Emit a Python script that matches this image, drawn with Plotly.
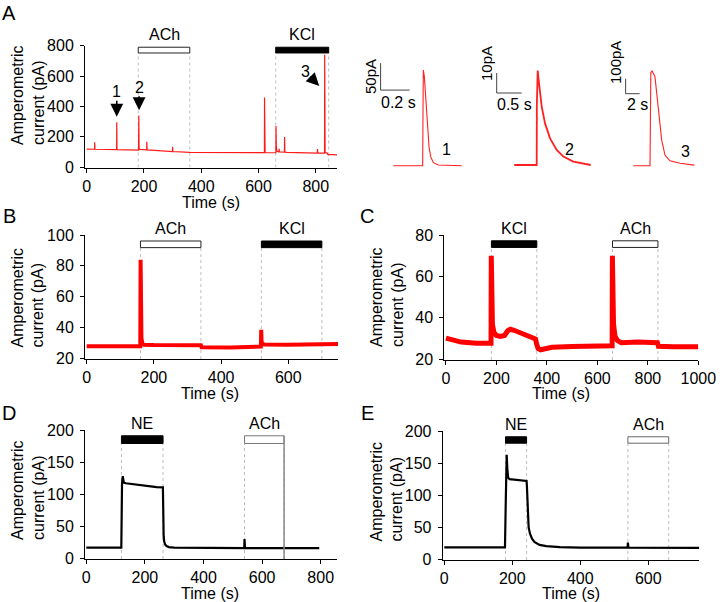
import plotly.graph_objects as go

# ---------------- data ----------------
# Panel A : full recording (s, pA)
A_time = [0, 27.5, 28, 28.8, 104.5, 105, 105.8, 181, 182, 183, 186, 209.5, 210, 211, 250,
          299.5, 300, 300.8, 360, 450, 600, 620.5, 621, 622, 623, 660.5, 661, 662, 664,
          671.5, 672, 672.8, 690.5, 691, 692, 700, 750, 805.5, 806, 806.8, 830.5, 831,
          832.5, 840, 842, 860, 880]
A_current = [118, 117, 163, 117, 114, 295, 114, 112, 339, 120, 116, 113, 167, 113, 108,
             102, 134, 102, 97, 95, 95, 95, 458, 100, 95, 94, 271, 140, 105,
             100, 120, 100, 98, 198, 98, 96, 94, 92, 119, 92, 91, 740,
             95, 92, 82, 81, 80]
A_xticks = [0, 200, 400, 600, 800]
A_yticks = [0, 200, 400, 600, 800]
A_stim_label = ["ACh", "KCl"]
A_stim_on = [180, 660]
A_stim_off = [360, 845]
A_stim_kind = ["open", "solid"]
A_arrow_label = ["1", "2", "3"]
A_arrow_t = [105, 183, 812]
A_arrow_y = [332, 375, 535]

# Panel A insets : single events (s from onset, pA above baseline)
ev1_t = [-0.202, 0, 0.0023, 0.0046, 0.0115, 0.0207, 0.032, 0.0437, 0.055, 0.0736, 0.108, 0.269]
ev1_y = [0, 0, 109, 177, 165, 128, 78, 35, 16.7, 5.6, 1.2, 0]
ev2_t = [-0.45, 0, 0.003, 0.02, 0.047, 0.1, 0.167, 0.267, 0.4, 0.533, 0.733, 1.08]
ev2_y = [0, 0, 30, 47.2, 40.8, 29.2, 20.8, 13.3, 7.5, 4.2, 1.7, 0]
ev3_t = [-2.38, 0, 0.12, 0.3, 0.71, 1.19, 1.67, 2.14, 2.86, 4.29, 6.33]
ev3_y = [0, 0, 622, 631, 593, 393, 171, 71, 33, 16, 4]
ev_label = ["1", "2", "3"]
ev_bar_t = [0.2, 0.5, 2]        # s
ev_bar_pA = [50, 10, 100]       # pA
ev_bar_t_txt = ["0.2 s", "0.5 s", "2 s"]
ev_bar_pA_txt = ["50pA", "10pA", "100pA"]

# Panel B
B_time = [0, 80, 159.5, 160.5, 161.5, 163, 166, 170, 200, 340, 342, 430, 518.5, 519.5,
          520.5, 523, 528, 600, 700, 705, 750]
B_current = [27.9, 27.7, 27.8, 84, 50, 33, 29.5, 28.8, 28.6, 28.5, 27.2, 27.0, 27.6, 38.5,
             31, 29.5, 29.0, 28.8, 28.7, 29.2, 29.3]
B_xticks = [0, 200, 400, 600]
B_yticks = [20, 40, 60, 80, 100]
B_stim_label = ["ACh", "KCl"]
B_stim_on = [160, 520]
B_stim_off = [340, 700]
B_stim_kind = ["open", "solid"]

# Panel C
C_time = [0, 20, 60, 120, 178.5, 179.5, 181, 184, 190, 200, 215, 232, 245, 255, 270,
          300, 330, 355, 359, 365, 375, 390, 420, 500, 600, 658.5, 659.5, 661, 664, 670,
          680, 695, 760, 838, 842, 900, 1000]
C_current = [30.2, 29.4, 28.3, 27.8, 27.8, 70, 48, 37, 33, 31.5, 31, 31.5, 33.8, 34.5, 34,
             32.5, 31, 29.8, 27.5, 25.2, 24.6, 25, 25.8, 26.2, 26.4, 26.5, 70, 48, 37, 31,
             29, 28, 28.3, 28, 26.3, 26, 26]
C_xticks = [0, 200, 400, 600, 800, 1000]
C_yticks = [20, 40, 60, 80]
C_stim_label = ["KCl", "ACh"]
C_stim_on = [180, 660]
C_stim_off = [360, 840]
C_stim_kind = ["solid", "open"]

# Panel D
D_time = [0, 40, 41, 42, 119.5, 120.5, 122, 124.5, 126, 128, 135, 160, 200, 240, 261.5,
          262.5, 264, 266, 269, 274, 282, 300, 400, 539, 540, 541.5, 600, 795]
D_current = [16.5, 16.5, 18, 16.5, 16.5, 70, 117, 128, 120, 118, 117, 115.5, 113, 111, 110.5,
             55, 34, 26, 21.5, 19, 17.5, 16.5, 15.8, 15.8, 30, 16, 16, 15.8]
D_xticks = [0, 200, 400, 600, 800]
D_yticks = [0, 50, 100, 150, 200]
D_stim_label = ["NE", "ACh"]
D_stim_on = [120, 540]
D_stim_off = [262, 675]
D_stim_kind = ["solid", "open"]

# Panel E
E_time = [0, 178.5, 180.5, 182, 183.5, 185.5, 188, 192, 215, 242, 243, 245, 248, 252, 258,
          265, 280, 300, 340, 400, 539, 540, 541.5, 750]
E_current = [18.5, 18.5, 82, 140, 163, 140, 127, 125, 123.5, 122, 114, 70, 50, 40, 32,
             27, 22.5, 20.5, 19, 18.3, 18.2, 26, 18.3, 17.8]
E_xticks = [0, 200, 400, 600]
E_yticks = [0, 50, 100, 150, 200]
E_stim_label = ["NE", "ACh"]
E_stim_on = [180, 540]
E_stim_off = [242, 660]
E_stim_kind = ["solid", "open"]

# ---------------- layout helpers ----------------
W, H = 725, 602
FONT = "Liberation Sans, Arial, Helvetica, sans-serif"
FS = 16


def dx(p0, p1):
    return [p0 / W, p1 / W]


def dy(top, bot):
    return [1 - bot / H, 1 - top / H]


fig = go.Figure()
annotations = []
shapes = []


def ann(text, px, py, size=FS, angle=0, align="center"):
    annotations.append(dict(text=text, x=px / W, y=1 - py / H, xref="paper", yref="paper",
                            showarrow=False, xanchor="center", yanchor="middle",
                            textangle=angle, align=align, borderpad=0,
                            font=dict(family=FONT, size=size, color="black")))


panels = [
    dict(t=A_time, y=A_current, color="#ff1a1a", w=1.2, xd=(85, 337), yd=(45.7, 167.5),
         xr=[-5.9, 874], yr=[-3.3, 800], xt=A_xticks, yt=A_yticks,
         st=(A_stim_label, A_stim_on, A_stim_off, A_stim_kind), box=(752, 790), boxc="#222",
         letter=("A", 9, 13), ytitle=(27.5, 95.5), xtitle=(211, 202.5)),
    dict(t=B_time, y=B_current, color="#ff0000", w=4, xd=(85, 338), yd=(235, 359),
         xr=[-5, 748], yr=[19.55, 100], xt=B_xticks, yt=B_yticks,
         st=(B_stim_label, B_stim_on, B_stim_off, B_stim_kind), box=(91.8, 96.1), boxc="#222",
         letter=("B", 9, 216.5), ytitle=(27.5, 298), xtitle=(210, 393)),
    dict(t=C_time, y=C_current, color="#ff0000", w=5, xd=(444.3, 698.3), yd=(235, 360),
         xr=[-6.7, 1000], yr=[19.66, 80], xt=C_xticks, yt=C_yticks,
         st=(C_stim_label, C_stim_on, C_stim_off, C_stim_kind), box=(74, 77.2), boxc="#222",
         letter=("C", 367, 216), ytitle=(387, 297), xtitle=(561, 393)),
    dict(t=D_time, y=D_current, color="#000000", w=2.2, xd=(85, 337), yd=(430, 559),
         xr=[-4.4, 855.6], yr=[-1.1, 200], xt=D_xticks, yt=D_yticks,
         st=(D_stim_label, D_stim_on, D_stim_off, D_stim_kind), box=(179, 191), boxc="#777",
         letter=("D", 9, 412.5), ytitle=(27.5, 490.5), xtitle=(210, 593)),
    dict(t=E_time, y=E_current, color="#000000", w=2.2, xd=(442.7, 699.3), yd=(431, 560),
         xr=[-4.7, 750], yr=[-1.1, 200], xt=E_xticks, yt=E_yticks,
         st=(E_stim_label, E_stim_on, E_stim_off, E_stim_kind), box=(181, 191), boxc="#666",
         letter=("E", 367, 412.5), ytitle=(386, 491.5), xtitle=(571, 593)),
]

axis_common = dict(showline=True, linecolor="black", linewidth=1, ticks="outside", ticklen=4,
                   tickwidth=1, tickcolor="black", showgrid=False, zeroline=False,
                   automargin=False,
                   tickfont=dict(family=FONT, size=FS, color="black"), fixedrange=True)

for i, p in enumerate(panels, start=1):
    xa = "x" if i == 1 else f"x{i}"
    ya = "y" if i == 1 else f"y{i}"
    fig.add_trace(go.Scatter(x=p["t"], y=p["y"], mode="lines",
                             line=dict(color=p["color"], width=p["w"]),
                             xaxis=xa, yaxis=ya, hoverinfo="skip", showlegend=False))
    fig.update_layout(**{
        ("xaxis" if i == 1 else f"xaxis{i}"): dict(domain=dx(*p["xd"]), range=p["xr"], anchor=ya,
                                                    tickvals=p["xt"], ticklabelstandoff=0,
                                                    **axis_common),
        ("yaxis" if i == 1 else f"yaxis{i}"): dict(domain=dy(*p["yd"]), range=p["yr"], anchor=xa,
                                                    tickvals=p["yt"], ticklabelstandoff=3,
                                                    **axis_common),
    })
    labels, ons, offs, kinds = p["st"]
    lo, hi = p["box"]
    for lab, on, off, kind in zip(labels, ons, offs, kinds):
        solid = kind == "solid"
        shapes.append(dict(type="rect", xref=xa, yref=ya, x0=on, x1=off, y0=lo, y1=hi,
                           fillcolor="black" if solid else "white",
                           line=dict(color="black" if solid else p["boxc"], width=1)))
        for edge in (on, off):
            shapes.append(dict(type="line", xref=xa, yref=ya, x0=edge, x1=edge,
                               y0=p["yr"][0], y1=lo, layer="below",
                               line=dict(color="#bdbdbd", width=1, dash="dot")))
        annotations.append(dict(text=lab, x=(on + off) / 2, y=hi, xref=xa, yref=ya,
                                showarrow=False, xanchor="center", yanchor="middle",
                                yshift=12.5, borderpad=0,
                                font=dict(family=FONT, size=FS, color="black")))
    L, lx, ly = p["letter"]
    ann(L, lx, ly, size=20)
    tx, ty = p["ytitle"]
    ann("Amperometric<br>current (pA)", tx, ty, angle=-90, align="left")
    ax_, ay_ = p["xtitle"]
    ann("Time (s)", ax_, ay_)

# panel D: ACh box right edge continues to the axis as a solid grey line
shapes.append(dict(type="line", xref="x4", yref="y4", x0=D_stim_off[1], x1=D_stim_off[1],
                   y0=-1.1, y1=191, line=dict(color="#888", width=1.5)))

# arrows in panel A
for lab, t, yv in zip(A_arrow_label, A_arrow_t, A_arrow_y):
    axo, ayo = (0, -25) if lab == "1" else ((0, -23) if lab == "2" else (-14, -14))
    annotations.append(dict(text=lab, x=t, y=yv, xref="x", yref="y", showarrow=True,
                            arrowhead=2, arrowsize=1.6, arrowwidth=1.6, arrowcolor="black",
                            ax=axo, ay=ayo, standoff=0, borderpad=0,
                            font=dict(family=FONT, size=FS, color="black")))

# insets
inset_cfg = [
    dict(t=ev1_t, y=ev1_y, w=1.1, xd=(370, 470), xr=[-0.363, 0.326], yr=[-11.7, 205],
         bar0=(-0.29, 140), lab_pA=(371, 76), lab_t=(398, 103), lab_n=(446, 150)),
    dict(t=ev2_t, y=ev2_y, w=1.8, xd=(485, 600), xr=[-1.034, 1.266], yr=[-3.5, 55],
         bar0=(-0.8, 36), lab_pA=(486, 64), lab_t=(514.5, 104), lab_n=(569, 150)),
    dict(t=ev3_t, y=ev3_y, w=1.1, xd=(615, 705), xr=[-5, 7.857], yr=[-42, 738],
         bar0=(-3.48, 480), lab_pA=(616, 63), lab_t=(637, 105), lab_n=(685, 151)),
]
for k, c in enumerate(inset_cfg):
    i = 6 + k
    xa, ya = f"x{i}", f"y{i}"
    fig.add_trace(go.Scatter(x=c["t"], y=c["y"], mode="lines",
                             line=dict(color="#ff2020", width=c["w"]),
                             xaxis=xa, yaxis=ya, hoverinfo="skip", showlegend=False))
    fig.update_layout(**{
        f"xaxis{i}": dict(domain=dx(*c["xd"]), range=c["xr"], anchor=ya, visible=False,
                          fixedrange=True, automargin=False),
        f"yaxis{i}": dict(domain=dy(55, 172), range=c["yr"], anchor=xa, visible=False,
                          fixedrange=True, automargin=False),
    })
    bx, by = c["bar0"]
    shapes.append(dict(type="line", xref=xa, yref=ya, x0=bx, x1=bx, y0=by, y1=by + ev_bar_pA[k],
                       line=dict(color="#444", width=1)))
    shapes.append(dict(type="line", xref=xa, yref=ya, x0=bx, x1=bx + ev_bar_t[k], y0=by, y1=by,
                       line=dict(color="#444", width=1)))
    ann(ev_bar_pA_txt[k], *c["lab_pA"], size=15, angle=-90)
    ann(ev_bar_t_txt[k], *c["lab_t"], size=FS)
    ann(ev_label[k], *c["lab_n"], size=FS)

fig.update_layout(width=W, height=H,
                  margin=dict(l=0, r=0, t=0, b=0, pad=0, autoexpand=False),
                  paper_bgcolor="white", plot_bgcolor="rgba(0,0,0,0)", showlegend=False,
                  annotations=annotations, shapes=shapes)

fig.write_html("out.html", config={"responsive": False, "displayModeBar": False},
               post_script="document.body.style.margin='0px';document.body.style.padding='0px';")
